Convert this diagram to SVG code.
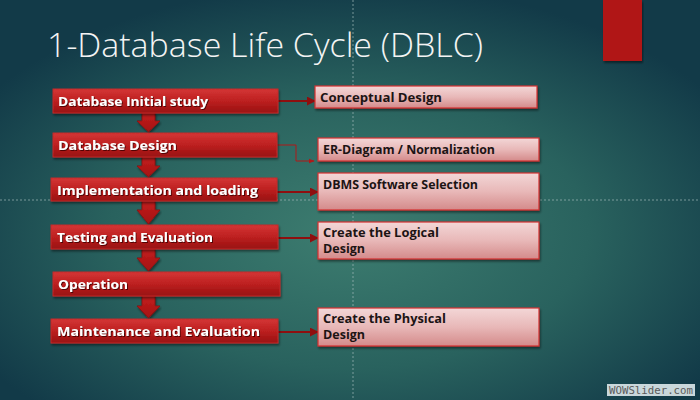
<svg xmlns="http://www.w3.org/2000/svg" width="700" height="400" viewBox="0 0 700 400">
  <defs>
    <radialGradient id="bg" cx="0.5" cy="0.58" r="0.62" fx="0.5" fy="0.58">
      <stop offset="0" stop-color="#3d7d70"/>
      <stop offset="0.55" stop-color="#29625e"/>
      <stop offset="1" stop-color="#123a48"/>
    </radialGradient>
    <linearGradient id="redFill" x1="0" y1="0" x2="0" y2="1">
      <stop offset="0" stop-color="#d43636"/>
      <stop offset="0.5" stop-color="#bd2020"/>
      <stop offset="1" stop-color="#981010"/>
    </linearGradient>
    <linearGradient id="pinkFill" x1="0" y1="0" x2="0" y2="1">
      <stop offset="0" stop-color="#f3d7d7"/>
      <stop offset="0.5" stop-color="#e8b8b8"/>
      <stop offset="1" stop-color="#d48a8a"/>
    </linearGradient>
    <linearGradient id="arrowFill" x1="0" y1="0" x2="0" y2="1">
      <stop offset="0" stop-color="#c41e1e"/>
      <stop offset="1" stop-color="#a31212"/>
    </linearGradient>
    <filter id="shadow" x="-5%" y="-20%" width="110%" height="150%">
      <feDropShadow dx="1" dy="2" stdDeviation="1.2" flood-color="#000" flood-opacity="0.45"/>
    </filter>
    <filter id="textShadow" x="-5%" y="-20%" width="110%" height="150%">
      <feDropShadow dx="1" dy="1" stdDeviation="0.6" flood-color="#3a0000" flood-opacity="0.8"/>
    </filter>
    <marker id="head" viewBox="0 0 10 10" refX="9" refY="5" markerWidth="4.5" markerHeight="4.5" orient="auto">
      <path d="M0,0 L10,5 L0,10 z" fill="#8e0f0f"/>
    </marker>
    <marker id="headThin" viewBox="0 0 10 10" refX="9" refY="5" markerWidth="6" markerHeight="6" orient="auto">
      <path d="M0,1 L10,5 L0,9 z" fill="#b01818"/>
    </marker>
  </defs>
  <style>
    .step rect { fill: url(#redFill); stroke: #c42a2a; stroke-width: 1; filter: url(#shadow); }
    .step text { font-family: "Open Sans", "DejaVu Sans", sans-serif; font-weight: bold; font-size: 13px; fill: #ffffff; filter: url(#textShadow); }
    .task rect { fill: url(#pinkFill); stroke: #d43030; stroke-width: 1.2; filter: url(#shadow); }
    .task text { font-family: "Open Sans", "DejaVu Sans", sans-serif; font-weight: bold; font-size: 12.5px; fill: #1c1414; }
    .flow { fill: url(#arrowFill); stroke: #8e1010; stroke-width: 0.8; filter: url(#shadow); }
    .link { fill: none; stroke: #8e0f0f; stroke-width: 2; marker-end: url(#head); }
    .linkThin { fill: none; stroke: #b01818; stroke-width: 1; marker-end: url(#headThin); }
    .guide { stroke: #9fb8b8; stroke-width: 1; stroke-dasharray: 2 2; opacity: 0.7; }
  </style>

  <!-- slide background -->
  <rect x="0" y="0" width="700" height="400" fill="url(#bg)"/>

  <!-- alignment guides -->
  <line class="guide" x1="353" y1="0" x2="353" y2="400"/>
  <line class="guide" x1="0" y1="200" x2="700" y2="200"/>

  <!-- accent tab -->
  <rect x="603" y="0" width="39" height="61" fill="#b01818" filter="url(#shadow)"/>

  <!-- title -->
  <text x="47" y="57" font-family="'Open Sans', 'DejaVu Sans', sans-serif" font-weight="300" font-size="33" fill="#f4f4f4" textLength="436" lengthAdjust="spacingAndGlyphs">1-Database Life Cycle (DBLC)</text>

  <!-- connectors -->
  <g id="connectors">
    <path class="flow" d="M142,113 L155,113 L155,121 L160,121 L148.5,132 L137,121 L142,121 z"/>
    <path class="flow" d="M142,157 L155,157 L155,166 L160,166 L148.5,177 L137,166 L142,166 z"/>
    <path class="flow" d="M142,201 L155,201 L155,210 L160,210 L148.5,224 L137,210 L142,210 z"/>
    <path class="flow" d="M142,249 L155,249 L155,258 L160,258 L148.5,271 L137,258 L142,258 z"/>
    <path class="flow" d="M142,296 L155,296 L155,306 L160,306 L148.5,318 L137,306 L142,306 z"/>

    <path class="link" d="M278,101 L315,101"/>
    <path class="linkThin" d="M277,145 L296,145 L296,161 L314,161"/>
    <path class="link" d="M277,192 L318,192"/>
    <path class="link" d="M278,238 L318,238"/>
    <path class="link" d="M278,332 L318,332"/>
  </g>

  <!-- lifecycle stages -->
  <g id="initial-study" class="step">
    <rect x="53" y="89" width="225" height="24"/>
    <text x="58" y="106" textLength="150" lengthAdjust="spacingAndGlyphs">Database Initial study</text>
  </g>
  <g id="database-design" class="step">
    <rect x="53" y="133" width="224" height="24"/>
    <text x="58" y="150" textLength="119" lengthAdjust="spacingAndGlyphs">Database Design</text>
  </g>
  <g id="implementation" class="step">
    <rect x="51" y="178" width="226" height="23"/>
    <text x="57" y="195" textLength="201" lengthAdjust="spacingAndGlyphs">Implementation and loading</text>
  </g>
  <g id="testing" class="step">
    <rect x="51" y="225" width="227" height="24"/>
    <text x="57" y="242" textLength="156" lengthAdjust="spacingAndGlyphs">Testing and Evaluation</text>
  </g>
  <g id="operation" class="step">
    <rect x="53" y="272" width="227" height="24"/>
    <text x="58" y="289" textLength="70" lengthAdjust="spacingAndGlyphs">Operation</text>
  </g>
  <g id="maintenance" class="step">
    <rect x="51" y="319" width="227" height="24"/>
    <text x="57" y="336" textLength="203" lengthAdjust="spacingAndGlyphs">Maintenance and Evaluation</text>
  </g>

  <!-- stage outputs -->
  <g id="conceptual-design" class="task">
    <rect x="315" y="86" width="222" height="22"/>
    <text x="320" y="102" textLength="122" lengthAdjust="spacingAndGlyphs">Conceptual Design</text>
  </g>
  <g id="er-diagram" class="task">
    <rect x="318" y="138" width="221" height="23"/>
    <text x="323" y="154" textLength="172" lengthAdjust="spacingAndGlyphs">ER-Diagram / Normalization</text>
  </g>
  <g id="dbms-selection" class="task">
    <rect x="318" y="173" width="221" height="37"/>
    <text x="323" y="189" textLength="155" lengthAdjust="spacingAndGlyphs">DBMS Software Selection</text>
  </g>
  <g id="logical-design" class="task">
    <rect x="318" y="222" width="221" height="37"/>
    <text x="323" y="237" textLength="116" lengthAdjust="spacingAndGlyphs">Create the Logical</text>
    <text x="323" y="253" textLength="42" lengthAdjust="spacingAndGlyphs">Design</text>
  </g>
  <g id="physical-design" class="task">
    <rect x="318" y="308" width="221" height="38"/>
    <text x="323" y="323" textLength="123" lengthAdjust="spacingAndGlyphs">Create the Physical</text>
    <text x="323" y="339" textLength="42" lengthAdjust="spacingAndGlyphs">Design</text>
  </g>

  <!-- watermark -->
  <rect x="607" y="384" width="88" height="12" fill="#c9d7db"/>
  <text x="609" y="394" font-family="'DejaVu Sans Mono', monospace" font-size="11" fill="#5a5a5a" textLength="84" lengthAdjust="spacingAndGlyphs">WOWSlider.com</text>
</svg>
